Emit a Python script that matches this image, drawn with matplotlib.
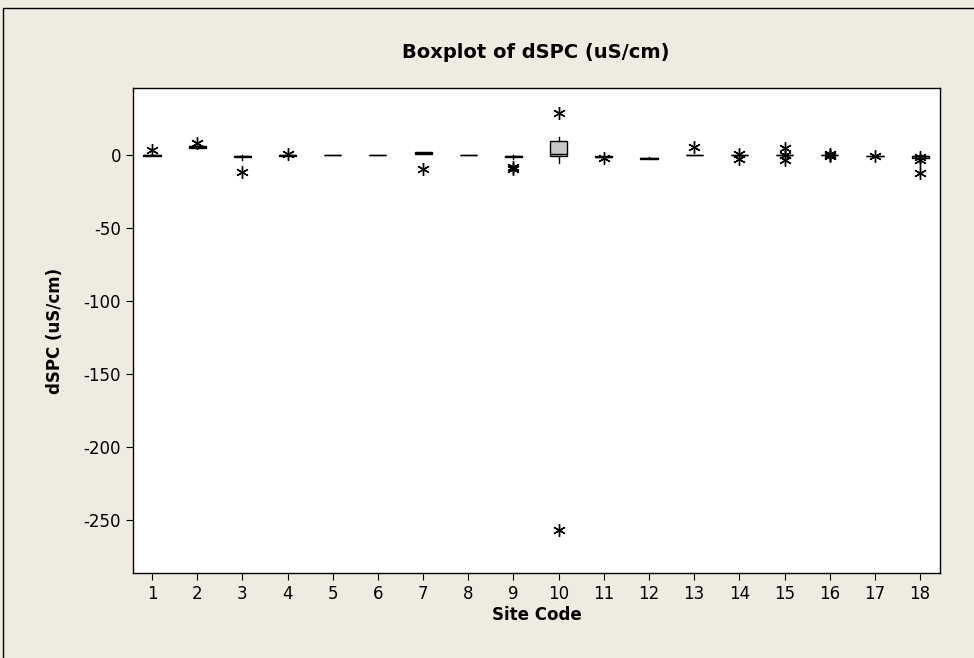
import matplotlib
matplotlib.use("Agg")
import matplotlib.pyplot as plt
from matplotlib.patches import Rectangle

plt.rcParams["axes.unicode_minus"] = False

# box statistics (uS/cm), one entry per site
sites = list(range(1, 19))
q1 = [-0.8, 5.0, -1.2, -0.5, 0.0, 0.0, 1.0, -0.3, -1.2, -1.0, -1.5, -2.8, -0.3, -0.2, -0.2, -0.2, -1.0, -2.0]
med = [0.0, 5.5, -0.7, 0.0, 0.0, 0.0, 1.5, -0.3, -0.7, 1.0, -1.2, -2.3, -0.3, 0.0, 0.0, 0.0, -0.8, -1.0]
q3 = [0.0, 6.2, -0.5, 0.3, 0.0, 0.0, 2.0, -0.3, -0.5, 9.5, -1.0, -1.8, -0.3, 0.2, 0.2, 0.2, -0.6, -0.5]
whislo = [-1.0, 4.8, -3.4, -0.8, 0.0, 0.0, 0.8, -0.3, -3.0, -5.3, -2.0, -3.0, -0.3, -0.5, -0.5, -0.5, -1.2, -2.5]
whishi = [0.5, 6.5, -0.3, 0.5, 0.0, 0.0, 2.2, -0.3, 0.0, 12.0, -0.8, -1.6, -0.3, 0.5, 0.5, 0.5, -0.4, 0.0]
fliers = [
    [3.3],
    [8.5],
    [-11.8],
    [0.5],
    [],
    [],
    [-9.5],
    [],
    [-8.5, -9.5],
    [28.5, -256.8],
    [-2.0],
    [],
    [5.8],
    [1.0, -2.8],
    [4.8, 0.0, -3.3],
    [1.0, -0.8, 0.2],
    [-1.0],
    [-1.2, -3.5, -12.0],
]

stats = []
for i in range(len(sites)):
    stats.append(dict(q1=q1[i], med=med[i], q3=q3[i], whislo=whislo[i],
                      whishi=whishi[i], fliers=fliers[i]))

bg = "#EFEBE1"
fig = plt.figure(figsize=(9.74, 6.58), dpi=100, facecolor=bg)
fig.patches.append(Rectangle((3 / 974, -0.01), 1.0, 1 - 8 / 658 + 0.01,
                             transform=fig.transFigure, fill=False,
                             edgecolor="black", linewidth=1.0))
ax = fig.add_axes([133 / 974, 1 - 573 / 658, 807 / 974, 485 / 658])

ax.bxp(stats, positions=sites, widths=0.38, patch_artist=True, showcaps=False,
       boxprops=dict(facecolor="#C8C8C8", edgecolor="black", linewidth=1.0),
       medianprops=dict(color="black", linewidth=1.0),
       whiskerprops=dict(color="black", linewidth=1.0),
       flierprops=dict(marker=(6, 2, 0), markersize=9, markeredgecolor="black",
                       markerfacecolor="none", markeredgewidth=1.0, linestyle="none"))

ax.set_xlim(0.58, 18.44)
ax.set_ylim(-286.3, 45.9)
ax.set_xticks(sites)
ax.set_xticklabels([str(s) for s in sites])
ax.set_yticks([0, -50, -100, -150, -200, -250])
ax.tick_params(direction="out", length=5, labelsize=12, width=0.8)
for sp in ax.spines.values():
    sp.set_linewidth(1.0)

ax.set_xlabel("Site Code", fontsize=12, fontweight="bold", labelpad=2)
ax.set_ylabel("dSPC (uS/cm)", fontsize=12, fontweight="bold", labelpad=14)
fig.text(536 / 974, 1 - 52 / 658, "Boxplot of dSPC (uS/cm)", fontsize=14,
         fontweight="bold", ha="center", va="center")

fig.savefig("out.png", dpi=100, facecolor=bg)
